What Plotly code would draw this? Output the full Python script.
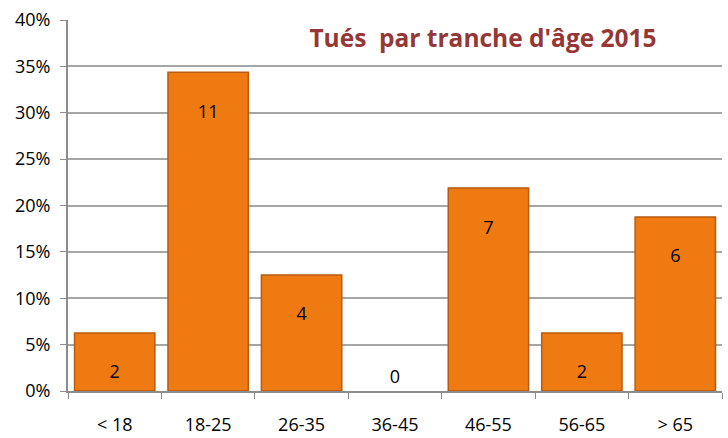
import plotly.graph_objects as go

categories = ["< 18", "18-25", "26-35", "36-45", "46-55", "56-65", "> 65"]
counts = [2, 11, 4, 0, 7, 2, 6]
total = sum(counts)
shares = [c / total for c in counts]
y_ticks = [0, 0.05, 0.10, 0.15, 0.20, 0.25, 0.30, 0.35, 0.40]
y_tick_labels = ["0%", "5%", "10%", "15%", "20%", "25%", "30%", "35%", "40%"]
title_text = "Tués  par tranche d'âge 2015"

positions = ["inside" if c > 0 else "outside" for c in counts]
labels = [("\u00a0<br>" + str(c)) if c > 0 else str(c) for c in counts]
line_widths = [1.5 if c > 0 else 0 for c in counts]

FONT = "Open Sans, Liberation Sans, sans-serif"

fig = go.Figure()
fig.add_trace(go.Bar(
    x=categories,
    y=shares,
    text=labels,
    textposition=positions,
    insidetextanchor="end",
    textfont=dict(family=FONT, size=18, color="#000000"),
    outsidetextfont=dict(family=FONT, size=18, color="#000000"),
    marker=dict(color="#F07A12", line=dict(color="#B85A10", width=line_widths)),
    cliponaxis=False,
    hoverinfo="skip",
))

fig.update_layout(
    width=728, height=438,
    margin=dict(l=68, r=6, t=20, b=47, autoexpand=False),
    paper_bgcolor="white", plot_bgcolor="white",
    bargap=0.14,
    showlegend=False,
    font=dict(family=FONT, size=18, color="#000000"),
    title=dict(
        text=title_text,
        x=483 / 728, xanchor="center", xref="container",
        y=1 - 38 / 438, yanchor="middle", yref="container",
        font=dict(family=FONT, size=24.5, color="#953735", weight="bold"),
    ),
    xaxis=dict(
        type="category",
        automargin=False,
        showline=True, linecolor="#8C8C8C", linewidth=2,
        ticks="outside", tickson="boundaries", ticklen=6, tickcolor="#8C8C8C", tickwidth=1,
        showgrid=False,
        ticklabelstandoff=16,
        tickfont=dict(size=18),
    ),
    yaxis=dict(
        range=[0, 0.40],
        automargin=False,
        tickvals=y_ticks, ticktext=y_tick_labels,
        showline=True, linecolor="#8C8C8C", linewidth=2,
        ticks="outside", ticklen=6, tickcolor="#8C8C8C",
        showgrid=True, gridcolor="#A6A6A6", gridwidth=1.5,
        zeroline=False,
        tickfont=dict(size=18),
        ticklabelstandoff=6,
    ),
)

fig.write_html("out.html", config={"displayModeBar": False},
               post_script="document.body.style.margin='0';document.body.style.overflow='hidden';")
